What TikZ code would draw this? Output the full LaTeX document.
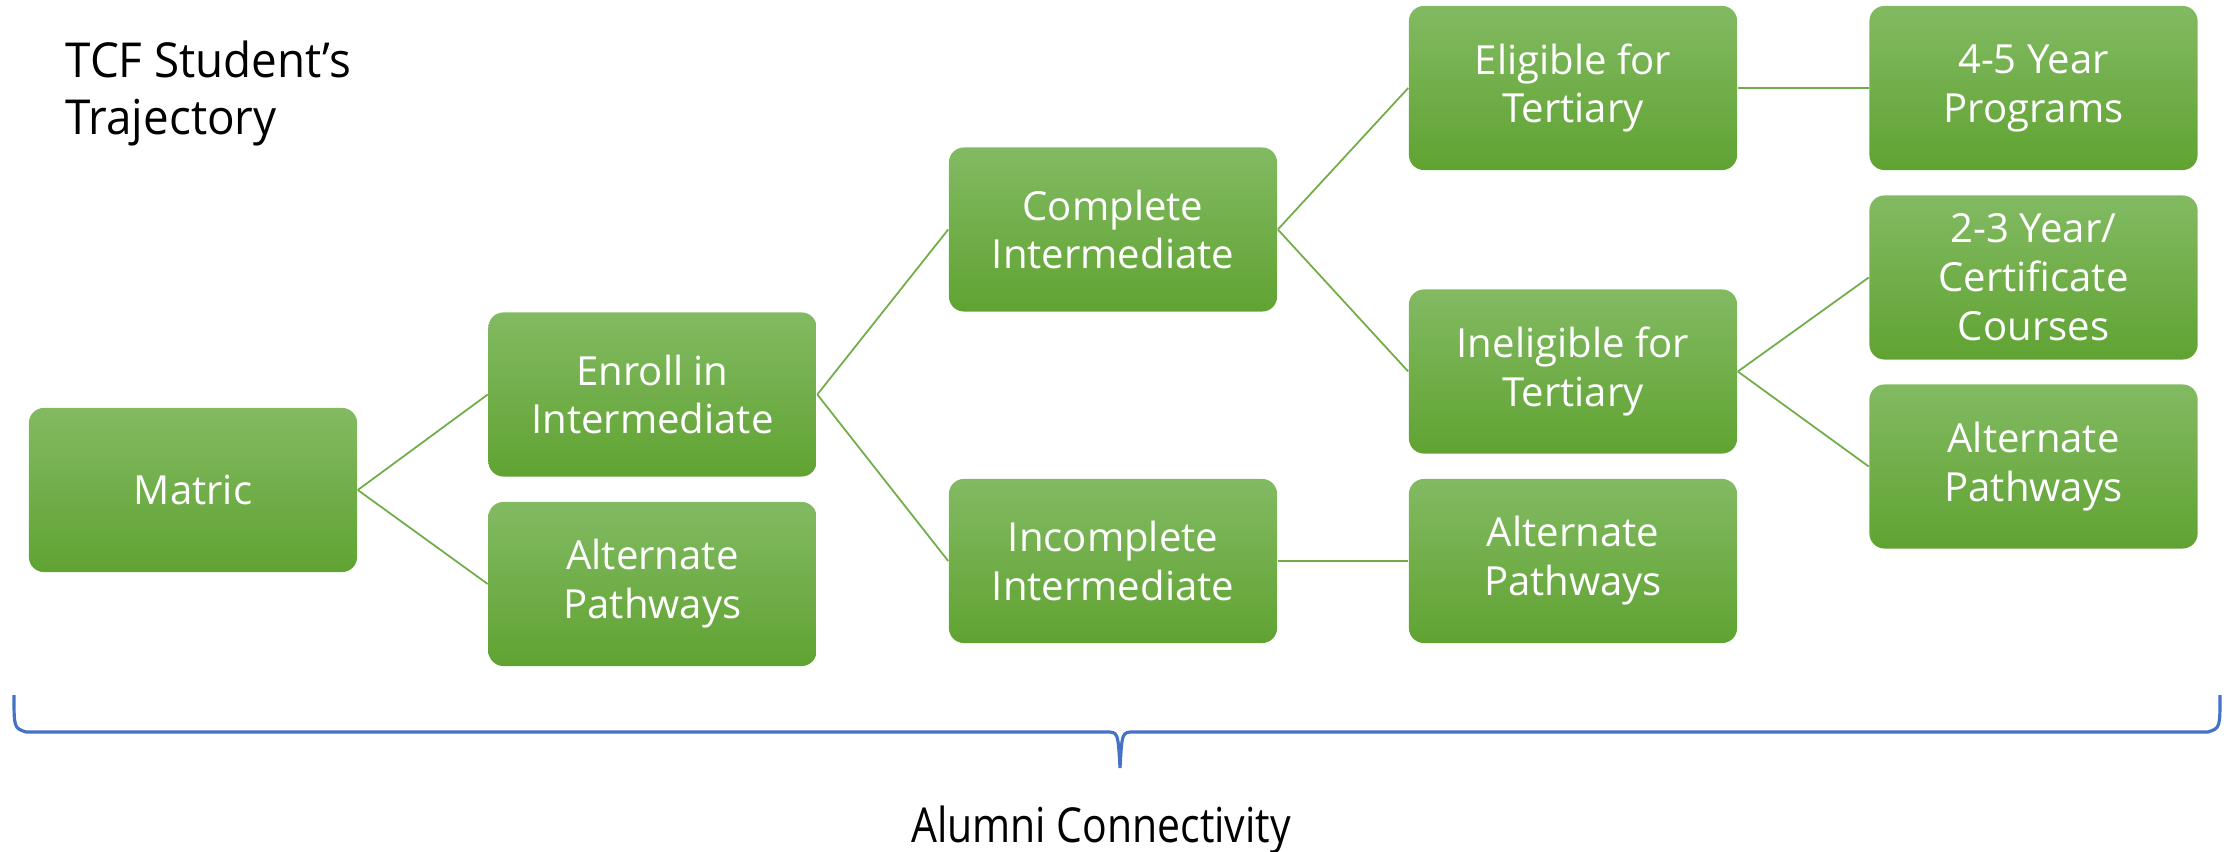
\documentclass[tikz,border=0pt]{standalone}
\usepackage{fontspec}
\setmainfont{Open Sans}
\newfontfamily\titlefont[FakeStretch=0.95]{Open Sans}
\newfontfamily\alumnifont[FakeStretch=0.85]{Open Sans}
\definecolor{gtop}{RGB}{130,186,98}
\definecolor{gbot}{RGB}{96,163,50}
\definecolor{gline}{RGB}{112,173,71}
\definecolor{bracecol}{RGB}{68,114,196}
\begin{document}
\begin{tikzpicture}[x=0.01cm,y=-0.01cm,
  box/.style={rounded corners=0.15cm, top color=gtop, bottom color=gbot, draw=none,
    minimum width=3.28cm, minimum height=1.64cm, text=white, align=center,
    inner sep=0pt, font=\fontsize{11.4}{13.9}\selectfont},
  link/.style={draw=gline, line width=0.5pt}]
\useasboundingbox (0,0) rectangle (2234,852);
\node[anchor=north west, align=left, inner sep=0pt, font=\titlefont\fontsize{13.7}{16.4}\selectfont] (title) at (65,40) {TCF Student’s\\Trajectory};
\node[box] (matric) at (193,490) {Matric};
\node[box] (enroll) at (652.5,394.5) {Enroll in\\Intermediate};
\node[box] (alttwo) at (652.5,584) {Alternate\\Pathways};
\node[box] (complete) at (1113,229.5) {Complete\\Intermediate};
\node[box] (incomplete) at (1113,561) {Incomplete\\Intermediate};
\node[box] (eligible) at (1573,88) {Eligible for\\Tertiary};
\node[box] (ineligible) at (1573,371.5) {Ineligible for\\Tertiary};
\node[box] (altfour) at (1573,561) {Alternate\\Pathways};
\node[box] (progs) at (2033.5,88) {4-5 Year\\Programs};
\node[box] (cert) at (2033.5,277.5) {2-3 Year/\\Certificate\\Courses};
\node[box] (altfive) at (2033.5,466.5) {Alternate\\Pathways};
\draw[link] (matric.east) -- (enroll.west);
\draw[link] (matric.east) -- (alttwo.west);
\draw[link] (enroll.east) -- (complete.west);
\draw[link] (enroll.east) -- (incomplete.west);
\draw[link] (complete.east) -- (eligible.west);
\draw[link] (complete.east) -- (ineligible.west);
\draw[link] (incomplete.east) -- (altfour.west);
\draw[link] (eligible.east) -- (progs.west);
\draw[link] (ineligible.east) -- (cert.west);
\draw[link] (ineligible.east) -- (altfive.west);
\draw[bracecol, line width=0.9pt] (14,695) .. controls (14,728) .. (26,732) -- (1106,732) .. controls (1118,732) .. (1120,768)
  .. controls (1122,732) .. (1134,732) -- (2208,732) .. controls (2220,728) .. (2220,695);
\node[anchor=base, inner sep=0pt, font=\alumnifont\fontsize{13.7}{16.4}\selectfont] (alumni) at (1101,842) {Alumni Connectivity};
\end{tikzpicture}
\end{document}
